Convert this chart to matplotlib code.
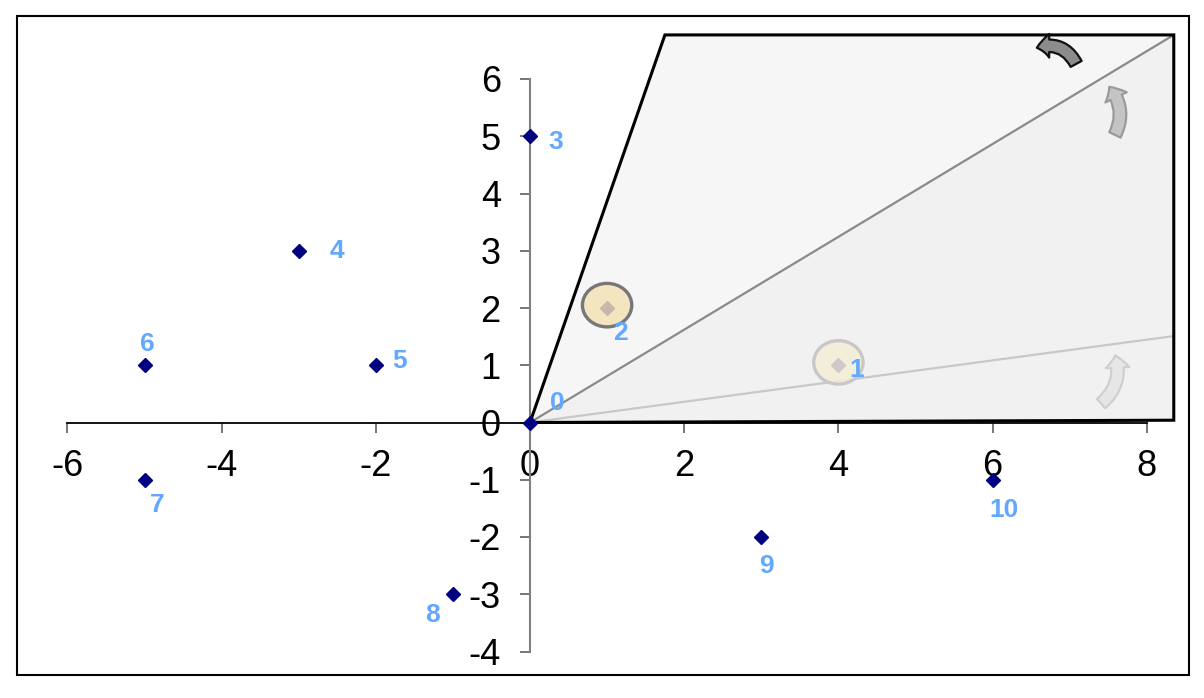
import matplotlib
matplotlib.use("Agg")
import matplotlib.pyplot as plt
from matplotlib import font_manager
from matplotlib.patches import Polygon, Ellipse, FancyArrowPatch, Rectangle

# ---------------------------------------------------
# Data
# ---------------------------------------------------
point_ids = ["0", "1", "2", "3", "4", "5", "6", "7", "8", "9", "10"]
x_vals = [0, 4, 1, 0, -3, -2, -5, -5, -1, 3, 6]
y_vals = [0, 1, 2, 5, 3, 1, 1, -1, -3, -2, -1]

# shaded region (quadrilateral) and the two rays from the origin
region_x = [0, 1.75, 8.35, 8.35]
region_y = [0, 6.77, 6.77, 0.04]
ray_mid_end = (8.35, 6.77)
ray_low_end = (8.35, 1.51)

# highlighted points
highlight_ids = [2, 1]

x_ticks = [-6, -4, -2, 0, 2, 4, 6, 8]
y_ticks = [-4, -3, -2, -1, 0, 1, 2, 3, 4, 5, 6]

# label offsets in pixels (dx, dy)
label_offsets = [(27, 20), (18, -5), (13, -25), (26, -6), (38, 0), (24, 4),
                 (3, 21), (13, -25), (-20, -21), (5, -29), (11, -30)]

plt.rcParams["font.family"] = ["Liberation Sans", "DejaVu Sans"]

available = {f.name for f in font_manager.fontManager.ttflist}
label_family = "Liberation Sans Narrow" if "Liberation Sans Narrow" in available else "Liberation Sans"

fig = plt.figure(figsize=(12.04, 6.98), dpi=100)
ax = fig.add_axes([0, 0, 1, 1])

# pixel mapping: x=0 at px 530, 77.1 px/unit; y=0 at px 422.5, 57.25 px/unit
ax.set_xlim((0 - 530) / 77.1, (1204 - 530) / 77.1)
ax.set_ylim((422.5 - 698) / 57.25, 422.5 / 57.25)
ax.patch.set_visible(False)

# --- region ---
upper = Polygon(list(zip(region_x, region_y)), closed=True,
                facecolor="#f6f6f6", edgecolor="none", zorder=1)
ax.add_patch(upper)
lower = Polygon([(0, 0), ray_mid_end, (region_x[2], region_y[3])], closed=True,
                facecolor="#f1f1f1", edgecolor="none", zorder=1.1)
ax.add_patch(lower)
outline = Polygon(list(zip(region_x, region_y)), closed=True,
                  facecolor="none", edgecolor="black", linewidth=2.2,
                  joinstyle="miter", zorder=3)
ax.add_patch(outline)

ax.plot([0, ray_mid_end[0]], [0, ray_mid_end[1]], color="#8a8a8a", linewidth=1.6, zorder=2)
ax.plot([0, ray_low_end[0]], [0, ray_low_end[1]], color="#c8c8c8", linewidth=1.6, zorder=2)

# --- curved arrows ---
arrows = [
    ((7.10, 6.22), (6.54, 6.53), 0.45, "#8c8c8c", "#111111"),
    ((7.57, 4.98), (7.49, 5.90), 0.35, "#c4c4c4", "#9a9a9a"),
    ((7.38, 0.30), (7.58, 1.22), 0.35, "#e6e6e6", "#cfcfcf"),
]
for tail, head, rad, fc, ec in arrows:
    arr = FancyArrowPatch(tail, head, connectionstyle=f"arc3,rad={rad}",
                          arrowstyle="simple,head_length=9,head_width=17,tail_width=9",
                          facecolor=fc, edgecolor=ec, linewidth=1.6, zorder=3.5)
    ax.add_patch(arr)

# --- points ---
ax.plot(x_vals, y_vals, linestyle="none", marker="D", markersize=7.5,
        color="#000080", zorder=4, clip_on=False)

# highlight circles
circle_styles = {2: ("#f3e2b4", "#777777", 0.82), 1: ("#f3eed6", "#c8c8c8", 0.85)}
for idx in highlight_ids:
    fc, ec, a = circle_styles[idx]
    ax.add_patch(Ellipse((x_vals[idx], y_vals[idx] + 0.05), 0.64, 0.76,
                         facecolor=fc, edgecolor="none", alpha=a, zorder=5))
    ax.add_patch(Ellipse((x_vals[idx], y_vals[idx] + 0.05), 0.64, 0.76,
                         facecolor="none", edgecolor=ec, linewidth=2.4, zorder=5.1))

# labels
for pid, x, y, (dx, dy) in zip(point_ids, x_vals, y_vals, label_offsets):
    ax.annotate(pid, (x, y), xytext=(dx, dy), textcoords="offset pixels",
                ha="center", va="center", color="#62a8ff", fontsize=19,
                fontweight="bold", family=label_family, zorder=6)

# --- axes through origin ---
for side in ["top", "right"]:
    ax.spines[side].set_visible(False)
ax.spines["bottom"].set_position(("data", 0))
ax.spines["left"].set_position(("data", 0))
ax.spines["bottom"].set_bounds(-6, 8)
ax.spines["left"].set_bounds(-4, 6)
ax.spines["bottom"].set_color("black")
ax.spines["bottom"].set_linewidth(1.3)
ax.spines["left"].set_color("#808080")
ax.spines["left"].set_linewidth(1.5)

ax.set_xticks(x_ticks)
ax.set_yticks(y_ticks)
ax.set_xticklabels([str(t) for t in x_ticks])
ax.set_yticklabels([str(t) for t in y_ticks])
ax.tick_params(axis="both", direction="out", length=7, width=1.2,
               color="#606060", labelsize=26, labelcolor="black")
ax.tick_params(axis="x", pad=12)
ax.tick_params(axis="y", pad=14)

# outer frame
fig.patches.append(Rectangle((17 / 1204, (698 - 675) / 698), (1189 - 17) / 1204,
                             (675 - 16) / 698, transform=fig.transFigure,
                             fill=False, edgecolor="black", linewidth=1.5))

fig.savefig("out.png", dpi=100)
